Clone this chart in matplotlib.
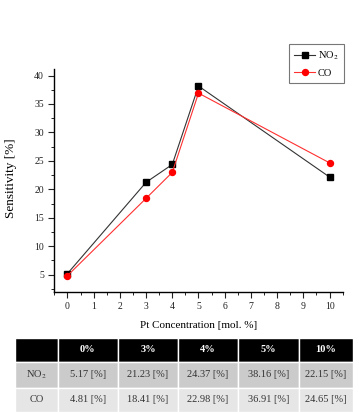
import numpy as np
import matplotlib
matplotlib.use("Agg")
import matplotlib.pyplot as plt
from matplotlib.patches import Rectangle
from matplotlib.ticker import MultipleLocator

plt.rcParams['font.family'] = ['Liberation Serif', 'DejaVu Serif']
plt.rcParams['mathtext.fontset'] = 'stix'

# data
pt_conc = [0, 3, 4, 5, 10]
no2 = [5.17, 21.23, 24.37, 38.16, 22.15]
co = [4.81, 18.41, 22.98, 36.91, 24.65]
col_labels = ['0%', '3%', '4%', '5%', '10%']
row_labels = ['NO$_2$', 'CO']

W, H = 359, 412
fig = plt.figure(figsize=(W / 100, H / 100), dpi=100)

ax = fig.add_axes([54.3 / W, 1 - 291.7 / H, (342.7 - 54.3) / W, (291.7 - 69.3) / H])
ax.plot(pt_conc, no2, color='#333333', lw=0.8, marker='s', ms=4.0, mfc='black', mec='black', label='NO$_2$')
ax.plot(pt_conc, co, color='#ff3030', lw=0.8, marker='o', ms=4.3, mfc='red', mec='red', label='CO')
ax.set_xlim(-0.5, 10.5)
ax.set_ylim(2, 41.1)
ax.xaxis.set_major_locator(MultipleLocator(1))
ax.xaxis.set_minor_locator(MultipleLocator(0.5))
ax.yaxis.set_minor_locator(MultipleLocator(2.5))
ax.set_yticks(range(5, 41, 5))
for s in ['top', 'right']:
    ax.spines[s].set_visible(False)
for s in ['left', 'bottom']:
    ax.spines[s].set_linewidth(1.0)
ax.tick_params(which='major', direction='out', length=4, width=0.8, labelsize=7, colors='#222222')
ax.tick_params(which='minor', direction='out', length=2, width=0.6)
ax.set_xlabel('Pt Concentration [mol. %]', fontsize=8, labelpad=7)
ax.set_ylabel('Sensitivity [%]', fontsize=9.5)
ax.yaxis.set_label_coords(-0.13, 0.51)

leg = ax.legend(loc='upper right', bbox_to_anchor=(344 / W, 1 - 44.3 / H), bbox_transform=fig.transFigure,
                fontsize=7.5, frameon=True, fancybox=False, handlelength=2.0, borderpad=0.5,
                labelspacing=0.6, handletextpad=0.3, borderaxespad=0)
leg.get_frame().set_edgecolor('#555555')
leg.get_frame().set_linewidth(0.8)

# table
tax = fig.add_axes([0, 0, 1, 1])
tax.set_xlim(0, W)
tax.set_ylim(H, 0)
tax.axis('off')
xb = [15, 57.5, 118, 178, 238, 299, 353]
yb = [337.7, 361.7, 387.7, 412]
row_colors = ['black', '#cbcbcb', '#e6e6e6']
cells = [[''] + col_labels,
         [row_labels[0]] + ['%.2f [%%]' % v for v in no2],
         [row_labels[1]] + ['%.2f [%%]' % v for v in co]]
for r in range(3):
    for c in range(6):
        x0, x1 = xb[c], xb[c + 1]
        y0, y1 = yb[r], yb[r + 1]
        tax.add_patch(Rectangle((x0, y0), x1 - x0, y1 - y0, facecolor=row_colors[r],
                                edgecolor='white', lw=1.0))
        tax.text((x0 + x1) / 2, (y0 + y1) / 2, cells[r][c], ha='center', va='center',
                 fontsize=7.5, color='white' if r == 0 else '#333333',
                 fontweight='bold' if r == 0 else 'normal')

fig.savefig('out.png', dpi=100, facecolor='white')
